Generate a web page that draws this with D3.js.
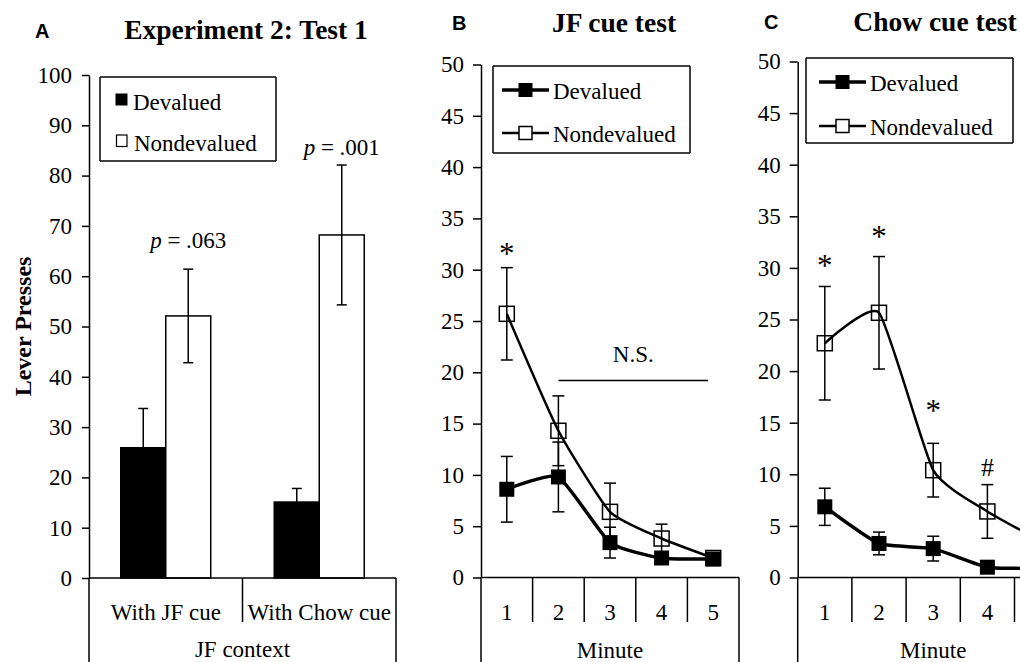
<!DOCTYPE html>
<html>
<head>
<meta charset="utf-8">
<script src="https://cdn.jsdelivr.net/npm/d3@7"></script>
<style>
  html, body { margin: 0; padding: 0; background: #fff; }
  svg { display: block; }
</style>
</head>
<body>
<svg id="chart" width="1020" height="662"></svg>
<script>
// ---------- Panel A: bar data ----------
const barCategories = ["With JF cue", "With Chow cue"];
const barSeries = ["Devalued", "Nondevalued"];
const devaluedPresses = [25.9, 15.1];
const devaluedPressesErr = [7.8, 2.7];
const nondevaluedPresses = [52.1, 68.2];
const nondevaluedPressesErr = [9.3, 13.9];
const pLabels = [".063", ".001"];
const pLabelLevels = [65.6, 84.1];
const barTicks = [0, 10, 20, 30, 40, 50, 60, 70, 80, 90, 100];

// ---------- Panels B and C: per-minute data ----------
const minutes = [1, 2, 3, 4, 5];
const minuteTicks = [0, 5, 10, 15, 20, 25, 30, 35, 40, 45, 50];

const jfDevalued = [8.6, 9.8, 3.4, 1.9, 1.8];
const jfDevaluedErr = [3.2, 3.4, 1.5, 0.6, 0.3];
const jfNondevalued = [25.7, 14.3, 6.4, 3.8, 1.9];
const jfNondevaluedErr = [4.5, 3.4, 2.8, 1.4, 0.3];
const jfStarMinutes = [1];
const jfStarText = ["*"];
const jfStarLevels = [31.9];

const chowDevalued = [6.85, 3.3, 2.8, 1.0, 0.9];
const chowDevaluedErr = [1.8, 1.1, 1.2, 0.4, 0.3];
const chowNondevalued = [22.7, 25.65, 10.4, 6.4, 3.5];
const chowNondevaluedErr = [5.5, 5.45, 2.6, 2.6, 1.5];
const chowStarMinutes = [1, 2, 3, 4];
const chowStarText = ["*", "*", "*", "#"];
const chowStarLevels = [30.6, 33.4, 16.5, 10.65];

// ---------- shared styling ----------
const SERIF = "Liberation Serif, Times New Roman, serif";
const SANS = "Liberation Sans, Arial, sans-serif";
const FS = 23;
const H = 662;

const svg = d3.select("#chart");
svg.append("rect").attr("width", 1020).attr("height", H).attr("fill", "#fff");

function text(g, x, y, s, o = {}) {
  return g.append("text")
    .attr("x", x).attr("y", y)
    .attr("text-anchor", o.anchor || "middle")
    .style("font-family", o.family || SERIF)
    .style("font-size", (o.size || FS) + "px")
    .style("font-weight", o.weight || "normal")
    .style("font-style", o.style || "normal")
    .attr("fill", "#000")
    .text(s);
}

function vline(g, x, y1, y2, w = 1.5) {
  g.append("line").attr("x1", x).attr("x2", x).attr("y1", y1).attr("y2", y2)
    .attr("stroke", "#000").attr("stroke-width", w);
}
function hline(g, x1, x2, y, w = 1.5) {
  g.append("line").attr("x1", x1).attr("x2", x2).attr("y1", y).attr("y2", y)
    .attr("stroke", "#000").attr("stroke-width", w);
}

function styleAxis(ax) {
  ax.attr("font-family", SERIF).attr("font-size", FS);
  ax.selectAll("path.domain").attr("stroke", "#000").attr("stroke-width", 1.5);
  ax.selectAll(".tick line").attr("stroke", "#000").attr("stroke-width", 1.5);
  ax.selectAll(".tick text")
    .style("font-family", SERIF).style("font-size", FS + "px").attr("fill", "#000");
}

function errorBar(g, cx, y, v, e, cap) {
  const top = y(v + e), bot = y(Math.max(0, v - e));
  vline(g, cx, top, bot, 1.5);
  hline(g, cx - cap / 2, cx + cap / 2, top, 1.5);
  hline(g, cx - cap / 2, cx + cap / 2, bot, 1.5);
}

// ================= Panel A =================
(function () {
  const g = svg.append("g");
  const y = d3.scaleLinear().domain([0, 100]).range([578, 75]);
  const x = d3.scaleBand().domain(barCategories).range([89, 396]);
  const xs = d3.scaleBand().domain(barSeries).range([0, x.bandwidth()]).paddingOuter(0.7056);

  text(g, 35, 38, "A", { anchor: "start", family: SANS, weight: "bold", size: 20 });
  text(g, 246, 39, "Experiment 2: Test 1", { weight: "bold", size: 27.5 });

  // y axis
  const ay = g.append("g").attr("transform", "translate(89,0)")
    .call(d3.axisLeft(y).tickValues(barTicks).tickSize(7).tickSizeOuter(0).tickPadding(10));
  styleAxis(ay);
  vline(g, 89, 578, H);

  text(g, 0, 0, "Lever Presses", { weight: "bold", size: 24 })
    .attr("transform", `translate(31,${(y(0) + y(100)) / 2}) rotate(-90)`);

  // bars
  const values = { Devalued: devaluedPresses, Nondevalued: nondevaluedPresses };
  const errs = { Devalued: devaluedPressesErr, Nondevalued: nondevaluedPressesErr };
  const fills = { Devalued: "#000", Nondevalued: "#fff" };
  barCategories.forEach((c, i) => {
    barSeries.forEach(s => {
      const v = values[s][i];
      g.append("rect")
        .attr("x", x(c) + xs(s)).attr("y", y(v))
        .attr("width", xs.bandwidth()).attr("height", y(0) - y(v))
        .attr("fill", fills[s]).attr("stroke", "#000").attr("stroke-width", 1.5);
    });
    barSeries.forEach(s => {
      errorBar(g, x(c) + xs(s) + xs.bandwidth() / 2, y, values[s][i], errs[s][i], 10);
    });
    const pt = text(g, x(c) + xs("Nondevalued") + xs.bandwidth() / 2, y(pLabelLevels[i]), "");
    pt.append("tspan").style("font-style", "italic").text("p");
    pt.append("tspan").text(" = " + pLabels[i]);
  });

  // category axis
  const ax = g.append("g").attr("transform", "translate(0,578)")
    .call(d3.axisBottom(x).tickSize(0).tickPadding(26));
  styleAxis(ax);
  ax.select("path.domain").remove();
  hline(g, 89, 396, 578);
  vline(g, x(barCategories[1]), 578, 622);
  vline(g, 396, 578, H);
  text(g, (89 + 396) / 2, 657, "JF context");

  // legend
  hline(g, 100, 276, 77); hline(g, 100, 276, 161); vline(g, 100, 77, 161); vline(g, 276, 77, 161);
  g.append("rect").attr("x", 115.5).attr("y", 93.5).attr("width", 12).attr("height", 12).attr("fill", "#000");
  text(g, 133, 110, "Devalued", { anchor: "start" });
  g.append("rect").attr("x", 116.5).attr("y", 135).attr("width", 10.5).attr("height", 11.5)
    .attr("fill", "#fff").attr("stroke", "#000").attr("stroke-width", 1.2);
  text(g, 134, 151, "Nondevalued", { anchor: "start" });
})();

// ================= Panels B and C =================
function linePanel(p) {
  const g = svg.append("g");
  const y = d3.scaleLinear().domain([0, 50]).range([577.5, p.yTop]);
  const x = d3.scaleBand().domain(minutes).range([p.x0, p.x0 + 5 * p.step]);
  const cx = m => x(m) + x.bandwidth() / 2;
  const xl = d3.scaleLinear().domain([1, 5]).range([cx(1), cx(5)]);

  text(g, p.letterX, p.headY, p.letter, { anchor: "start", family: SANS, weight: "bold", size: 20 });
  text(g, p.titleX, p.headY + 1.5, p.title, { weight: "bold", size: 27.5 });

  const ay = g.append("g").attr("transform", `translate(${p.x0},0)`)
    .call(d3.axisLeft(y).tickValues(minuteTicks).tickSize(8).tickSizeOuter(0).tickPadding(9));
  styleAxis(ay);
  vline(g, p.x0, 577.5, H);

  const ax = g.append("g").attr("transform", "translate(0,577.5)")
    .call(d3.axisBottom(x).tickSize(0).tickPadding(26));
  styleAxis(ax);
  ax.select("path.domain").remove();
  hline(g, p.x0, p.x0 + 5 * p.step, 577.5);
  minutes.slice(1).forEach(m => vline(g, x(m), 577.5, 622));
  vline(g, p.x0 + 5 * p.step, 577.5, H);
  text(g, cx(3), 658, "Minute");

  const line = d3.line().x((d, i) => cx(minutes[i])).y(d => y(d)).curve(d3.curveCardinal.tension(0.5));

  // nondevalued series
  g.append("path").attr("d", line(p.nondev)).attr("fill", "none")
    .attr("stroke", "#000").attr("stroke-width", 2.5);
  p.nondev.forEach((v, i) => {
    g.append("rect").attr("x", cx(minutes[i]) - 7.5).attr("y", y(v) - 7.5)
      .attr("width", 15).attr("height", 15)
      .attr("fill", "none").attr("stroke", "#000").attr("stroke-width", 1.5);
  });
  p.nondev.forEach((v, i) => errorBar(g, cx(minutes[i]), y, v, p.nondevErr[i], 12));

  // devalued series
  g.append("path").attr("d", line(p.dev)).attr("fill", "none")
    .attr("stroke", "#000").attr("stroke-width", 3.5);
  p.dev.forEach((v, i) => {
    g.append("rect").attr("x", cx(minutes[i]) - 7.5).attr("y", y(v) - 7.5)
      .attr("width", 15).attr("height", 15).attr("fill", "#000");
  });
  p.dev.forEach((v, i) => errorBar(g, cx(minutes[i]), y, v, p.devErr[i], 12));

  // significance marks
  p.starMinutes.forEach((m, i) => {
    const t = p.starText[i];
    if (t === "*") text(g, cx(m), y(p.starLevels[i]) + 14, t, { size: 31 });
    else text(g, cx(m), y(p.starLevels[i]) + 8.5, t, { size: 26 });
  });
  if (p.ns) {
    hline(g, xl(p.ns[0]), xl(p.ns[1]), y(p.ns[2]));
    text(g, xl((p.ns[0] + p.ns[1]) / 2), y(p.ns[3]), "N.S.");
  }

  // legend
  const L = p.legend;
  hline(g, L.x1, L.x2, L.y1); hline(g, L.x1, L.x2, L.y2); vline(g, L.x1, L.y1, L.y2); vline(g, L.x2, L.y1, L.y2);
  const mid = (L.s1 + L.s2) / 2;
  hline(g, L.s1, L.s2, L.r1, 3.5);
  g.append("rect").attr("x", mid - 7).attr("y", L.r1 - 7).attr("width", 14).attr("height", 14).attr("fill", "#000");
  text(g, L.s2 + 4, L.r1 + 9, "Devalued", { anchor: "start" });
  hline(g, L.s1, L.s2, L.r2, 2.5);
  g.append("rect").attr("x", mid - 6.5).attr("y", L.r2 - 6.5).attr("width", 13).attr("height", 13)
    .attr("fill", "#fff").attr("stroke", "#000").attr("stroke-width", 1.5);
  text(g, L.s2 + 4, L.r2 + 8.5, "Nondevalued", { anchor: "start" });
}

linePanel({
  letter: "B", letterX: 452, title: "JF cue test", titleX: 614, headY: 30,
  x0: 481, step: 51.6, yTop: 64.5,
  dev: jfDevalued, devErr: jfDevaluedErr, nondev: jfNondevalued, nondevErr: jfNondevaluedErr,
  starMinutes: jfStarMinutes, starText: jfStarText, starLevels: jfStarLevels,
  ns: [2, 4.9, 19.2, 21.0],
  legend: { x1: 493, x2: 690, y1: 66, y2: 153, s1: 502, s2: 549, r1: 90, r2: 133 }
});

linePanel({
  letter: "C", letterX: 764, title: "Chow cue test", titleX: 935, headY: 29,
  x0: 797.7, step: 54.2, yTop: 61.5,
  dev: chowDevalued, devErr: chowDevaluedErr, nondev: chowNondevalued, nondevErr: chowNondevaluedErr,
  starMinutes: chowStarMinutes, starText: chowStarText, starLevels: chowStarLevels,
  ns: null,
  legend: { x1: 806, x2: 1013, y1: 58, y2: 143, s1: 819, s2: 866, r1: 82, r2: 126 }
});
</script>
</body>
</html>
